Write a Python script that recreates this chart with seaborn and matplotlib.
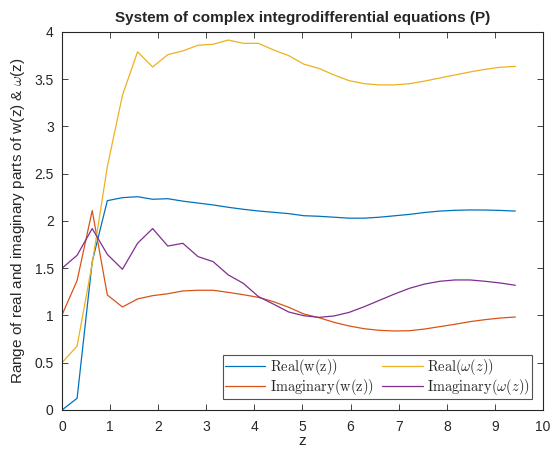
import numpy as np
import pandas as pd
import matplotlib
matplotlib.use("Agg")
import matplotlib.pyplot as plt
import seaborn as sns

# z sampled at pi/10 steps from 0 to 3*pi
z = np.arange(31) * np.pi / 10

real_w = [0.0, 0.124, 1.57, 2.215, 2.247, 2.257, 2.23, 2.236, 2.21, 2.19, 2.17,
          2.145, 2.124, 2.106, 2.092, 2.078, 2.056, 2.05, 2.04, 2.03, 2.03, 2.04,
          2.055, 2.07, 2.09, 2.105, 2.113, 2.117, 2.116, 2.112, 2.105]
imag_w = [1.005, 1.37, 2.11, 1.217, 1.09, 1.175, 1.21, 1.23, 1.26, 1.267, 1.267,
          1.245, 1.22, 1.192, 1.146, 1.087, 1.016, 0.977, 0.928, 0.889, 0.86, 0.843,
          0.836, 0.839, 0.857, 0.882, 0.907, 0.935, 0.956, 0.973, 0.984]
real_om = [0.5, 0.677, 1.55, 2.575, 3.33, 3.79, 3.63, 3.76, 3.80, 3.86, 3.87,
           3.915, 3.88, 3.88, 3.81, 3.75, 3.66, 3.615, 3.545, 3.485, 3.453, 3.44,
           3.44, 3.453, 3.481, 3.513, 3.545, 3.577, 3.605, 3.627, 3.636]
imag_om = [1.5, 1.637, 1.92, 1.647, 1.489, 1.764, 1.92, 1.735, 1.764, 1.623, 1.57,
           1.43, 1.34, 1.2, 1.12, 1.037, 0.998, 0.98, 0.995, 1.033, 1.093, 1.16,
           1.227, 1.288, 1.333, 1.362, 1.376, 1.376, 1.362, 1.344, 1.32]

labels = [r'$\mathrm{Real(w(z))}$', r'$\mathrm{Imaginary(w(z))}$',
          r'$\mathrm{Real(}\omega(z)\mathrm{)}$', r'$\mathrm{Imaginary(}\omega(z)\mathrm{)}$']
colors = ['#0072BD', '#D95319', '#EDB120', '#7E2F8E']
series = [real_w, imag_w, real_om, imag_om]

sns.set_style('ticks')
plt.rcParams['font.family'] = ['Liberation Sans', 'DejaVu Sans']
plt.rcParams['mathtext.fontset'] = 'cm'

fig = plt.figure(figsize=(5.52, 4.5), dpi=100)
ax = fig.add_axes([0.1123, 0.0889, 0.9837 - 0.1123, 0.9289 - 0.0889])

for vals, lab, col in zip(series, labels, colors):
    sns.lineplot(x=z, y=vals, ax=ax, color=col, label=lab, linewidth=0.9)

ax.set_xlim(0, 10)
ax.set_ylim(0, 4)
ax.set_xticks(np.arange(0, 11, 1))
ax.set_yticks(np.arange(0, 4.01, 0.5))
ax.set_yticklabels(['0', '0.5', '1', '1.5', '2', '2.5', '3', '3.5', '4'])
ax.tick_params(direction='in', top=True, right=True, labelsize=10,
               length=4, width=0.6, colors='#262626')
ax.tick_params(axis='x', pad=7)
ax.tick_params(axis='y', pad=6)
for sp in ax.spines.values():
    sp.set_color('#262626')
    sp.set_linewidth(0.8)

ax.set_title('System of complex integrodifferential equations (P)',
             fontsize=11, fontweight='bold', pad=7)
ax.set_xlabel('z', fontsize=11, labelpad=0)
ax.set_ylabel(r'Range of real and imaginary parts of w(z) & $\omega$(z)', fontsize=11, labelpad=5)

leg = ax.legend(loc='lower right', bbox_to_anchor=(0.977, 0.029), borderaxespad=0,
                ncol=2, fontsize=10.4, fancybox=False, frameon=True,
                handlelength=2.8, columnspacing=0.6, handletextpad=0.3,
                labelspacing=0.0, borderpad=0.15)
leg.get_frame().set_edgecolor('#262626')
leg.get_frame().set_linewidth(0.8)
for line in leg.get_lines():
    line.set_linewidth(0.9)

fig.savefig('out.png', dpi=100)
